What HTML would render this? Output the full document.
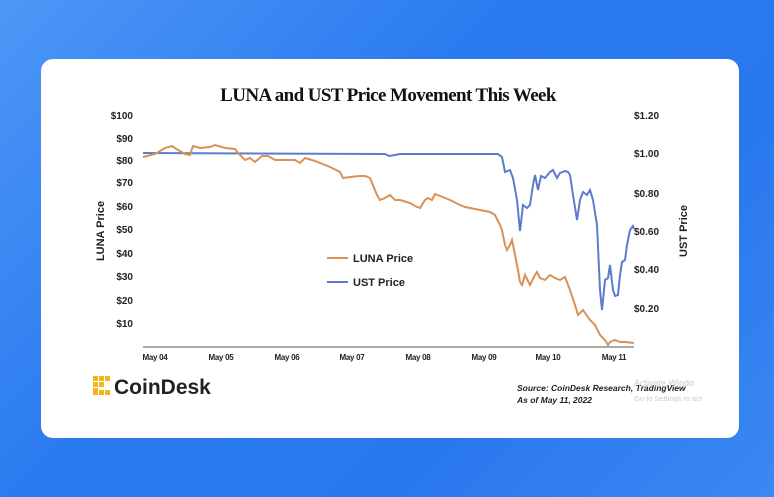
<!DOCTYPE html>
<html><head><meta charset="utf-8"><style>
html,body{margin:0;padding:0}
body{width:774px;height:497px;overflow:hidden;position:relative;background:linear-gradient(135deg,#4d97f6 0%,#2b7bf0 40%,#2a78ee 70%,#3b88f3 100%);font-family:"Liberation Sans",sans-serif}
.card{position:absolute;left:41px;top:59px;width:698px;height:379px;background:#fff;border-radius:12px}
</style></head><body>
<div class="card"></div>
<svg width="774" height="497" style="position:absolute;left:0;top:0" font-family="Liberation Sans, sans-serif">
<text x="388" y="101" text-anchor="middle" font-family="Liberation Serif, serif" font-weight="bold" font-size="19" letter-spacing="-0.6" fill="#111">LUNA and UST Price Movement This Week</text>
<g font-size="10" font-weight="bold" fill="#222" text-anchor="end">
<text x="133" y="119">$100</text><text x="133" y="142">$90</text><text x="133" y="164">$80</text><text x="133" y="186">$70</text><text x="133" y="210">$60</text><text x="133" y="233">$50</text><text x="133" y="257">$40</text><text x="133" y="280">$30</text><text x="133" y="304">$20</text><text x="133" y="327">$10</text>
</g>
<g font-size="10" font-weight="bold" fill="#222">
<text x="634" y="119">$1.20</text><text x="634" y="157">$1.00</text><text x="634" y="197">$0.80</text><text x="634" y="235">$0.60</text><text x="634" y="273">$0.40</text><text x="634" y="312">$0.20</text>
</g>
<text transform="translate(104,231) rotate(-90)" text-anchor="middle" font-size="11" font-weight="bold" fill="#222">LUNA Price</text>
<text transform="translate(687,231) rotate(-90)" text-anchor="middle" font-size="11" font-weight="bold" fill="#222">UST Price</text>
<line x1="143" y1="347" x2="634" y2="347" stroke="#777" stroke-width="1.2"/>
<g font-size="8" font-weight="bold" fill="#222" text-anchor="middle" letter-spacing="-0.3">
<text x="155" y="360">May 04</text><text x="221" y="360">May 05</text><text x="287" y="360">May 06</text><text x="352" y="360">May 07</text><text x="418" y="360">May 08</text><text x="484" y="360">May 09</text><text x="548" y="360">May 10</text><text x="614" y="360">May 11</text>
</g>
<polyline fill="none" stroke="#5b7ccc" stroke-width="2" points="143,153 385,154 389,156 395,155 400,154 498,154 502,157 505,172 510,170 513,178 517,200 520,231 523,205 527,208 530,205 533,185 535,175 538,190 541,176 545,178 550,172 553,170 557,178 560,173 565,171 568,172 570,175 573,195 577,220 580,200 583,192 587,195 590,190 593,200 597,225 600,290 602,310 605,280 608,278 610,265 613,290 615,296 618,295 620,275 622,262 625,260 627,245 630,230 633,226 634,229"/>
<polyline fill="none" stroke="#d99256" stroke-width="2" points="143,157 155,154 165,148 172,146 178,150 185,154 190,155 193,146 200,148 210,147 215,145 225,148 235,149 240,155 245,160 250,158 255,162 262,156 268,156 275,160 285,160 295,160 300,163 305,158 315,161 330,167 340,172 343,178 350,177 360,176 365,176 370,178 377,195 380,200 385,198 390,195 395,200 400,200 410,203 415,206 420,208 425,200 428,198 432,200 435,194 440,196 445,198 450,200 460,205 465,207 470,208 480,210 490,212 495,215 500,225 502,230 505,245 507,250 510,245 512,240 515,255 518,270 520,282 522,285 525,275 530,285 535,275 537,272 540,278 545,280 550,275 555,278 560,280 565,277 570,290 575,305 578,315 583,310 590,320 595,325 600,335 605,340 608,345 610,342 615,340 620,342 625,342 634,343"/>
<line x1="327" y1="258" x2="348" y2="258" stroke="#d99256" stroke-width="2"/>
<text x="353" y="262" font-size="11" font-weight="bold" fill="#222">LUNA Price</text>
<line x1="327" y1="282" x2="348" y2="282" stroke="#5b7ccc" stroke-width="2"/>
<text x="353" y="286" font-size="11" font-weight="bold" fill="#222">UST Price</text>
<g fill="#f2b51c">
<rect x="93" y="376" width="5" height="5"/><rect x="99" y="376" width="5" height="5"/><rect x="105" y="376" width="5" height="5"/>
<rect x="93" y="382" width="5" height="5"/><rect x="93" y="388" width="5" height="5"/><rect x="99" y="382" width="5" height="5"/>
<rect x="93" y="390" width="5" height="5"/><rect x="99" y="390" width="5" height="5"/><rect x="105" y="390" width="5" height="5"/>
</g>
<text x="114" y="394" font-size="21" font-weight="bold" fill="#222">CoinDesk</text>
<text x="517" y="391" font-size="8.5" font-weight="bold" font-style="italic" fill="#222">Source: CoinDesk Research, TradingView</text>
<text x="517" y="403" font-size="8.5" font-weight="bold" font-style="italic" fill="#222">As of May 11, 2022</text>
<text x="634" y="386" font-size="9" fill="#ccc">Activate Windo</text>
<text x="634" y="401" font-size="7.5" fill="#ccc">Go to Settings to act</text>
</svg>
</body></html>
